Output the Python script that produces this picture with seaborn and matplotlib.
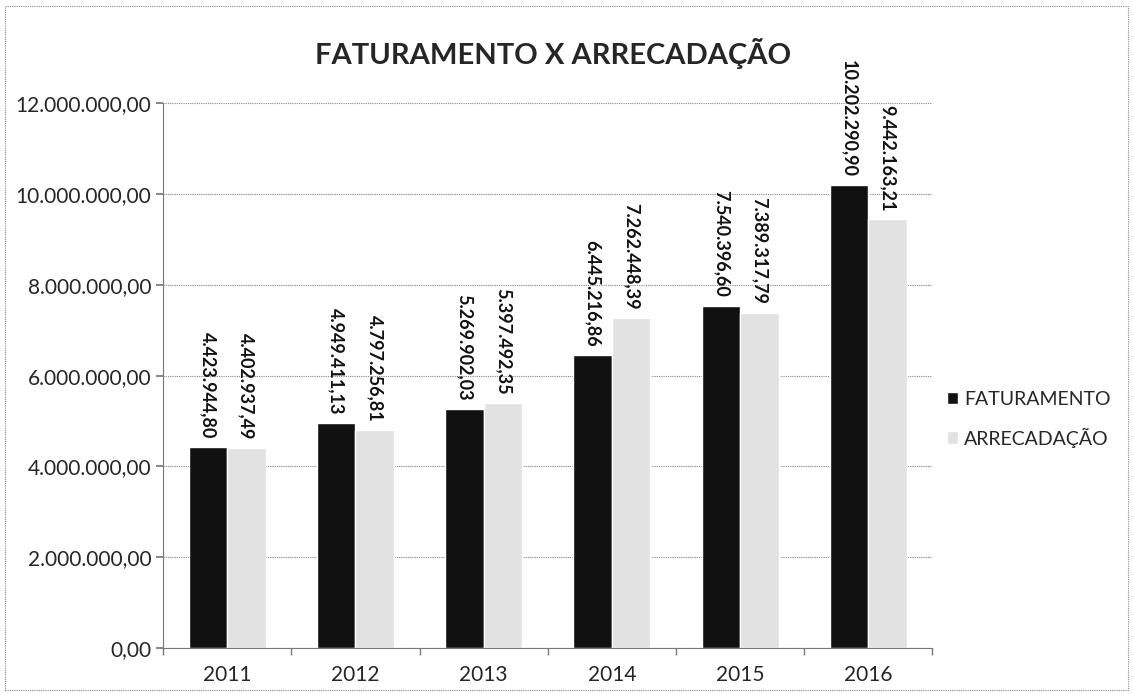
import numpy as np
import pandas as pd
import matplotlib
matplotlib.use("Agg")
import matplotlib.pyplot as plt
from matplotlib.ticker import FuncFormatter, FixedLocator
import seaborn as sns

# Data
anos = ["2011", "2012", "2013", "2014", "2015", "2016"]
faturamento = [4423944.80, 4949411.13, 5269902.03, 6445216.86, 7540396.60, 10202290.90]
arrecadacao = [4402937.49, 4797256.81, 5397492.35, 7262448.39, 7389317.79, 9442163.21]
series = ["FATURAMENTO", "ARRECADAÇÃO"]

df = pd.DataFrame({
    "Ano": anos * 2,
    "Valor": faturamento + arrecadacao,
    "Serie": [series[0]] * len(anos) + [series[1]] * len(anos),
})


def fmt_br(v, pos=None):
    s = f"{v:,.2f}"
    return s.replace(",", "X").replace(".", ",").replace("X", ".")


sns.set_theme(style="white")
plt.rcParams["font.family"] = ["Lato", "DejaVu Sans"]

fig = plt.figure(figsize=(11.33, 6.93), dpi=100)
ax = fig.add_axes([0.144, 0.065, 0.679, 0.786])

sns.barplot(
    data=df, x="Ano", y="Valor", hue="Serie",
    palette=["#111111", "#e2e2e2"], width=0.6,
    saturation=1, ax=ax, errorbar=None)

for cont in ax.containers:
    ax.bar_label(cont, labels=[fmt_br(b.get_height()) for b in cont],
                 rotation=-90, padding=6, fontsize=13, fontweight="bold",
                 color="#111111", clip_on=False)

ax.set_ylim(0, 12000000)
ax.set_xlim(-0.5, 5.5)
ax.yaxis.set_major_locator(FixedLocator(np.arange(0, 12000001, 2000000)))
ax.yaxis.set_major_formatter(FuncFormatter(fmt_br))
ax.set_xlabel("")
ax.set_ylabel("")
ax.tick_params(axis="y", labelsize=15, length=5, direction="out", color="#777777", left=True)
ax.tick_params(axis="x", which="major", labelsize=15, length=0, pad=12)
ax.set_xticks(np.arange(-0.5, 6, 1), minor=True)
ax.tick_params(axis="x", which="minor", length=5, direction="out", color="#777777", bottom=True)

ax.grid(axis="y", color="#888888", linestyle=(0, (1, 1)), linewidth=0.8)
ax.set_axisbelow(True)
for side in ["top", "right"]:
    ax.spines[side].set_visible(False)
for side in ["left", "bottom"]:
    ax.spines[side].set_color("#777777")
    ax.spines[side].set_linewidth(0.8)

fig.suptitle("FATURAMENTO X ARRECADAÇÃO", x=0.488, y=0.945, fontsize=21, fontweight="bold")

ax.legend(title=None, frameon=False, loc="center left",
          bbox_to_anchor=(0.82, 0.395), bbox_transform=fig.transFigure,
          fontsize=14, handlelength=0.6, handleheight=0.6,
          handletextpad=0.3, labelspacing=1.0)

# dotted frame around the chart
fig.patches.append(plt.Rectangle((0.004, 0.004), 0.992, 0.987, transform=fig.transFigure,
                                 fill=False, edgecolor="#888888", linestyle=(0, (1, 1)), linewidth=0.8))

fig.savefig("out.png", dpi=100)
